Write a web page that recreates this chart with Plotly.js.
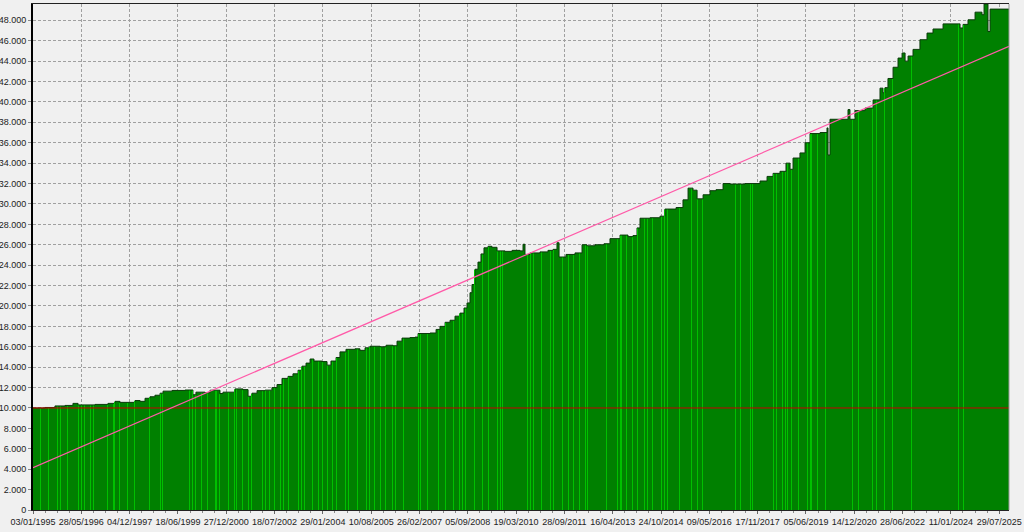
<!DOCTYPE html>
<html>
<head>
<meta charset="utf-8">
<script src="https://cdn.plot.ly/plotly-3.0.1.min.js"></script>
<style>
  html, body { margin: 0; padding: 0; background: #f0f0f0; }
  #chart { width: 1024px; height: 532px; }
</style>
</head>
<body>
<div id="chart"></div>
<script>
// x-axis date labels, one every BARS_PER_TICK bars
const tickLabels = ["03/01/1995","28/05/1996","04/12/1997","18/06/1999","27/12/2000","18/07/2002",
  "29/01/2004","10/08/2005","26/02/2007","05/09/2008","19/03/2010","28/09/2011","16/04/2013",
  "24/10/2014","09/05/2016","17/11/2017","05/06/2019","14/12/2020","28/06/2022","11/01/2024","29/07/2025"];
const BARS_PER_TICK = 370;
const LAST_BAR = 7475;

// equity curve (bar index, equity value)
const equityBar = [0,92,168,245,306,345,475,574,628,666,781,820,858,896,934,973,996,1065,1164,1225,1248,1317,1356,1432,1455,1547,1608,1647,1677,1716,1777,1830,1869,1907,1953,1991,2030,2060,2091,2122,2152,2213,2252,2282,2321,2351,2397,2466,2504,2543,2581,2658,2704,2757,2788,2826,2887,2926,2949,3041,3087,3117,3156,3194,3232,3270,3301,3324,3347,3362,3385,3408,3431,3454,3485,3515,3554,3615,3669,3730,3753,3768,3807,3883,3944,3983,4013,4029,4082,4151,4205,4243,4304,4373,4419,4496,4557,4595,4626,4649,4726,4802,4840,4925,4978,5017,5055,5086,5132,5185,5231,5285,5338,5453,5568,5622,5668,5721,5767,5798,5821,5874,5913,5951,6028,6081,6089,6104,6242,6257,6296,6372,6434,6487,6510,6525,6548,6587,6625,6656,6679,6702,6740,6793,6847,6893,6970,7100,7123,7161,7215,7268,7284,7314,7330,7475];
const equityValue = [10000,10050,10200,10250,10450,10300,10350,10450,10650,10550,10730,10650,10950,11100,11250,11450,11650,11720,11760,11300,11550,11500,11740,11420,11550,11870,11800,11150,11450,11700,11750,12000,12300,12900,13100,13350,13700,14100,14400,14800,14600,14550,14200,14600,14950,15500,15750,15800,15650,15900,16050,16000,16150,16100,16550,16850,16900,16950,17300,17350,17700,18000,18400,18600,19000,19300,19800,20300,21300,22100,23600,24300,25100,25700,25850,25750,25400,25350,25450,25400,26050,25050,25200,25300,25450,25550,26200,24800,25050,25200,26000,25900,26000,26100,26600,26950,26800,26900,27650,28600,28650,28800,29500,29650,30400,31550,31350,30500,30900,31300,31400,32000,31950,32000,32250,32700,33000,33200,34000,33400,34500,35000,36000,36900,37000,37450,34800,38300,39250,38300,39150,39400,40200,41350,40900,41400,42300,43400,44300,44800,44000,44500,45150,46100,46750,47150,47650,47250,47600,48050,48800,48550,49600,46900,49100,49100];

// bars drawn in a lighter green
const lightBars = [54,115,191,207,268,345,375,398,437,460,567,613,628,666,720,781,896,973,988,1202,1218,1241,1294,1340,1394,1409,1432,1494,1547,1562,1608,1647,1677,1754,1777,1815,1853,1892,1915,1953,2030,2060,2083,2137,2183,2221,2259,2290,2328,2390,2413,2489,2558,2581,2619,2658,2696,2757,2773,2834,2949,2964,3025,3102,3156,3217,3270,3286,3309,3385,3439,3485,3554,3577,3592,3791,3807,3830,3898,3960,3983,4059,4098,4136,4189,4228,4243,4396,4473,4496,4511,4549,4588,4626,4687,4710,4741,4817,4840,4856,4955,5047,5086,5124,5377,5415,5492,5514,5668,5698,5737,5760,5782,5813,5859,5928,5951,5966,6005,6066,6280,6319,6426,6464,6525,6579,6732,7085,7123];

// regression line end values and initial capital
const regressionValues = [4150, 45450];
const initialCapital = 10000;

function equityAt(bar) {
  let v = equityValue[0];
  for (let i = 0; i < equityBar.length; i++) {
    if (equityBar[i] <= bar) v = equityValue[i]; else break;
  }
  return v;
}

const MARGIN_L = 33, MARGIN_R = 15;
const plotW = 1024 - MARGIN_L - MARGIN_R;
const unitsPerPx = LAST_BAR / plotW;

const tickVals = tickLabels.map((_, i) => i * BARS_PER_TICK);
const yTicks = [];
for (let v = 0; v <= 48000; v += 2000) yTicks.push(v);

// light bars as 1px vertical segments, snapped to pixel centres
const lbX = [], lbY = [];
lightBars.forEach(b => {
  const xs = (Math.floor(b / unitsPerPx) + 0.5) * unitsPerPx;
  lbX.push(xs, xs, null); lbY.push(0, equityAt(b) - 60, null);
});

const traces = [
  {
    x: equityBar, y: equityValue, type: 'scatter', mode: 'lines',
    line: { shape: 'hv', color: '#0a3a0a', width: 1 },
    fill: 'tozeroy', fillcolor: '#008000', hoverinfo: 'skip'
  },
  {
    x: lbX, y: lbY, type: 'scatter', mode: 'lines', connectgaps: false,
    line: { color: '#00c000', width: 1 }, hoverinfo: 'skip'
  },
  {
    x: [0, LAST_BAR], y: [initialCapital, initialCapital], type: 'scatter', mode: 'lines',
    line: { color: '#c80000', width: 1 }, hoverinfo: 'skip'
  },
  {
    x: [0, LAST_BAR], y: regressionValues, type: 'scatter', mode: 'lines',
    line: { color: '#ff5aa8', width: 1.2 }, hoverinfo: 'skip'
  }
];

const layout = {
  width: 1024, height: 532,
  margin: { l: MARGIN_L, r: MARGIN_R, t: 4, b: 22 },
  paper_bgcolor: '#f0f0f0', plot_bgcolor: '#f0f0f0',
  showlegend: false,
  separators: ',.',
  font: { family: 'Liberation Sans, Arial, sans-serif', size: 9, color: '#222' },
  xaxis: {
    range: [0, LAST_BAR], tickmode: 'array', tickvals: tickVals, ticktext: tickLabels,
    showgrid: true, gridcolor: '#a0a0a0', griddash: '3px,2px', gridwidth: 1,
    zeroline: false, showline: true, linecolor: '#222', linewidth: 1, mirror: true,
    ticks: 'outside', ticklen: 3, tickcolor: '#666',
    minor: { tickmode: 'linear', tick0: 0, dtick: BARS_PER_TICK / 4, ticks: 'outside', ticklen: 2, tickcolor: '#888', showgrid: false },
    tickfont: { size: 9, color: '#222' }, fixedrange: true
  },
  yaxis: {
    range: [0, 49600], tickmode: 'array', tickvals: yTicks, tickformat: ',d',
    showgrid: true, gridcolor: '#a0a0a0', griddash: '3px,2px', gridwidth: 1,
    zeroline: false, showline: true, linecolor: '#000', linewidth: 2,
    ticks: 'outside', ticklen: 3, tickcolor: '#888',
    tickfont: { size: 9, color: '#222' }, fixedrange: true
  },
  shapes: [
    { type: 'line', xref: 'paper', yref: 'paper', x0: 1, x1: 1, y0: 0, y1: 1, line: { color: '#9a9a9a', width: 1 } }
  ]
};

Plotly.newPlot('chart', traces, layout, { displayModeBar: false, staticPlot: true });
</script>
</body>
</html>
